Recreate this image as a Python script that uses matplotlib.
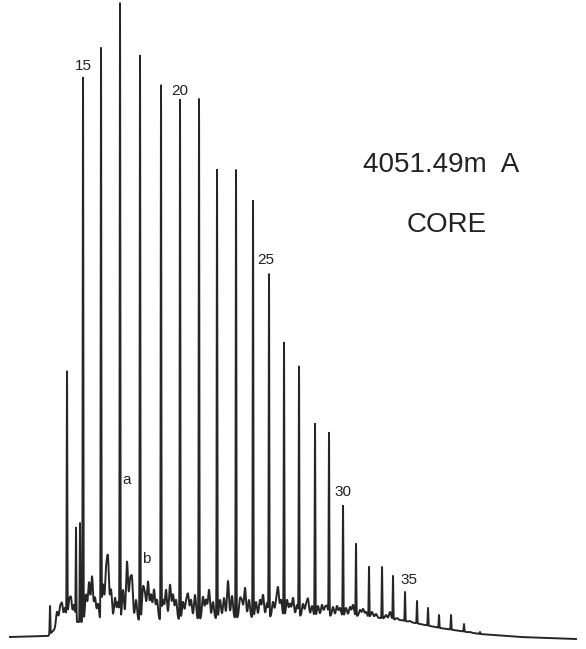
import numpy as np
import matplotlib
matplotlib.use('Agg')
import matplotlib.pyplot as plt

# n-alcanos: numero de carbonos, posicao de retencao e resposta no apice
carbonos = [14, 15, 16, 17, 18, 19, 20, 21, 22, 23, 24, 25, 26, 27,
            28, 29, 30, 31, 32, 33, 34, 35, 36, 37, 38, 39, 40, 41]
ret_alcanos = [67, 83, 101, 120, 140, 161, 180, 199, 217, 236, 253, 269, 284, 299,
               315, 329, 343, 356, 369, 382, 393, 405, 417, 428, 439, 451, 464, 480]
resp_alcanos = [273, 571, 596, 643, 593, 561, 549, 550, 479, 479, 448, 373, 306, 281,
                225, 215, 143, 105, 82, 82, 73, 57, 48, 41, 34, 34, 25, 17]

# picos menores (isoprenoides e mistura complexa)
ret_menores = [50, 57, 60, 62, 65, 69, 71, 74, 76, 80, 86, 89, 92, 95, 98, 103, 106, 108,
               111, 115, 118, 123, 127, 130, 132, 136, 143, 145, 148, 151, 154, 157, 163,
               166, 170, 173, 176, 183, 186, 188, 191, 195, 203, 206, 209, 213, 220, 224,
               228, 232, 240, 242, 245, 249, 256, 260, 263, 267, 273, 276, 278, 281, 287,
               290, 293, 297, 303, 306, 308, 312, 318, 322, 325, 327, 333, 337, 340, 346,
               350, 353, 360, 363, 366, 372, 376, 386, 390, 397, 410, 420, 430, 445, 470]
resp_menores = [43, 37, 40, 44, 41, 46, 49, 44, 119, 126, 54, 66, 72, 51, 45, 64, 74, 86,
                59, 51, 47, 59, 87, 64, 67, 49, 59, 52, 67, 54, 59, 49, 49,
                59, 64, 54, 49, 47, 45, 53, 49, 54, 52, 49, 59, 47, 49, 51,
                68, 53, 49, 46, 61, 49, 47, 49, 54, 46, 47, 45, 60, 49, 49,
                45, 51, 44, 45, 43, 49, 43, 43, 44, 41, 42, 42, 43, 41, 41,
                42, 44, 39, 40, 37, 37, 35, 34, 37, 31, 28, 24, 21, 19, 17]

# linha de base (envelope inferior)
ret_base = [10, 48, 53, 60, 100, 200, 300, 360, 400, 440, 480, 520, 576]
resp_base = [12, 13, 18, 26, 28, 30, 33, 33, 29, 21, 15, 12, 10]

# rotulos
rotulos = ['15', '20', '25', '30', '35']
pos_rotulos = [(83, 583), (180, 558), (266, 389), (343, 157), (409, 69)]


def gauss(x, centro, altura, sigma):
    return altura * np.exp(-0.5 * ((x - centro) / sigma) ** 2)


x = np.arange(10, 576, 0.05)
base = np.interp(x, ret_base, resp_base)
sinal = base.copy()
for c, r in zip(ret_alcanos, resp_alcanos):
    h = r - np.interp(c, ret_base, resp_base)
    sinal += gauss(x, c, max(h, 0), 0.3)
for c, r in zip(ret_menores, resp_menores):
    h = r - np.interp(c, ret_base, resp_base)
    s = 0.3 if (h > 60 or c < 55) else 1.0
    sinal += gauss(x, c, max(h, 0), s)

fig = plt.figure(figsize=(5.86, 6.49), dpi=100)
ax = fig.add_axes([0, 0, 1, 1])
ax.plot(x, sinal, color='#262626', linewidth=1.4)
ax.set_xlim(0, 586)
ax.set_ylim(0, 649)
ax.axis('off')

fonte = 'Liberation Sans'
for txt, (px, py) in zip(rotulos, pos_rotulos):
    ax.text(px, py, txt, fontsize=11, family=fonte, ha='center', va='center', color='#222222')
ax.text(127, 169, 'a', fontsize=11, family=fonte, ha='center', va='center', color='#222222')
ax.text(146, 90, 'b', fontsize=11, family=fonte, ha='center', va='center', color='#222222')

ax.text(363, 477, '4051.49m  A', fontsize=20, family=fonte, ha='left', va='baseline', color='#222222')
ax.text(447, 417, 'CORE', fontsize=20, family=fonte, ha='center', va='baseline', color='#222222')

fig.savefig('out.png', dpi=100)
